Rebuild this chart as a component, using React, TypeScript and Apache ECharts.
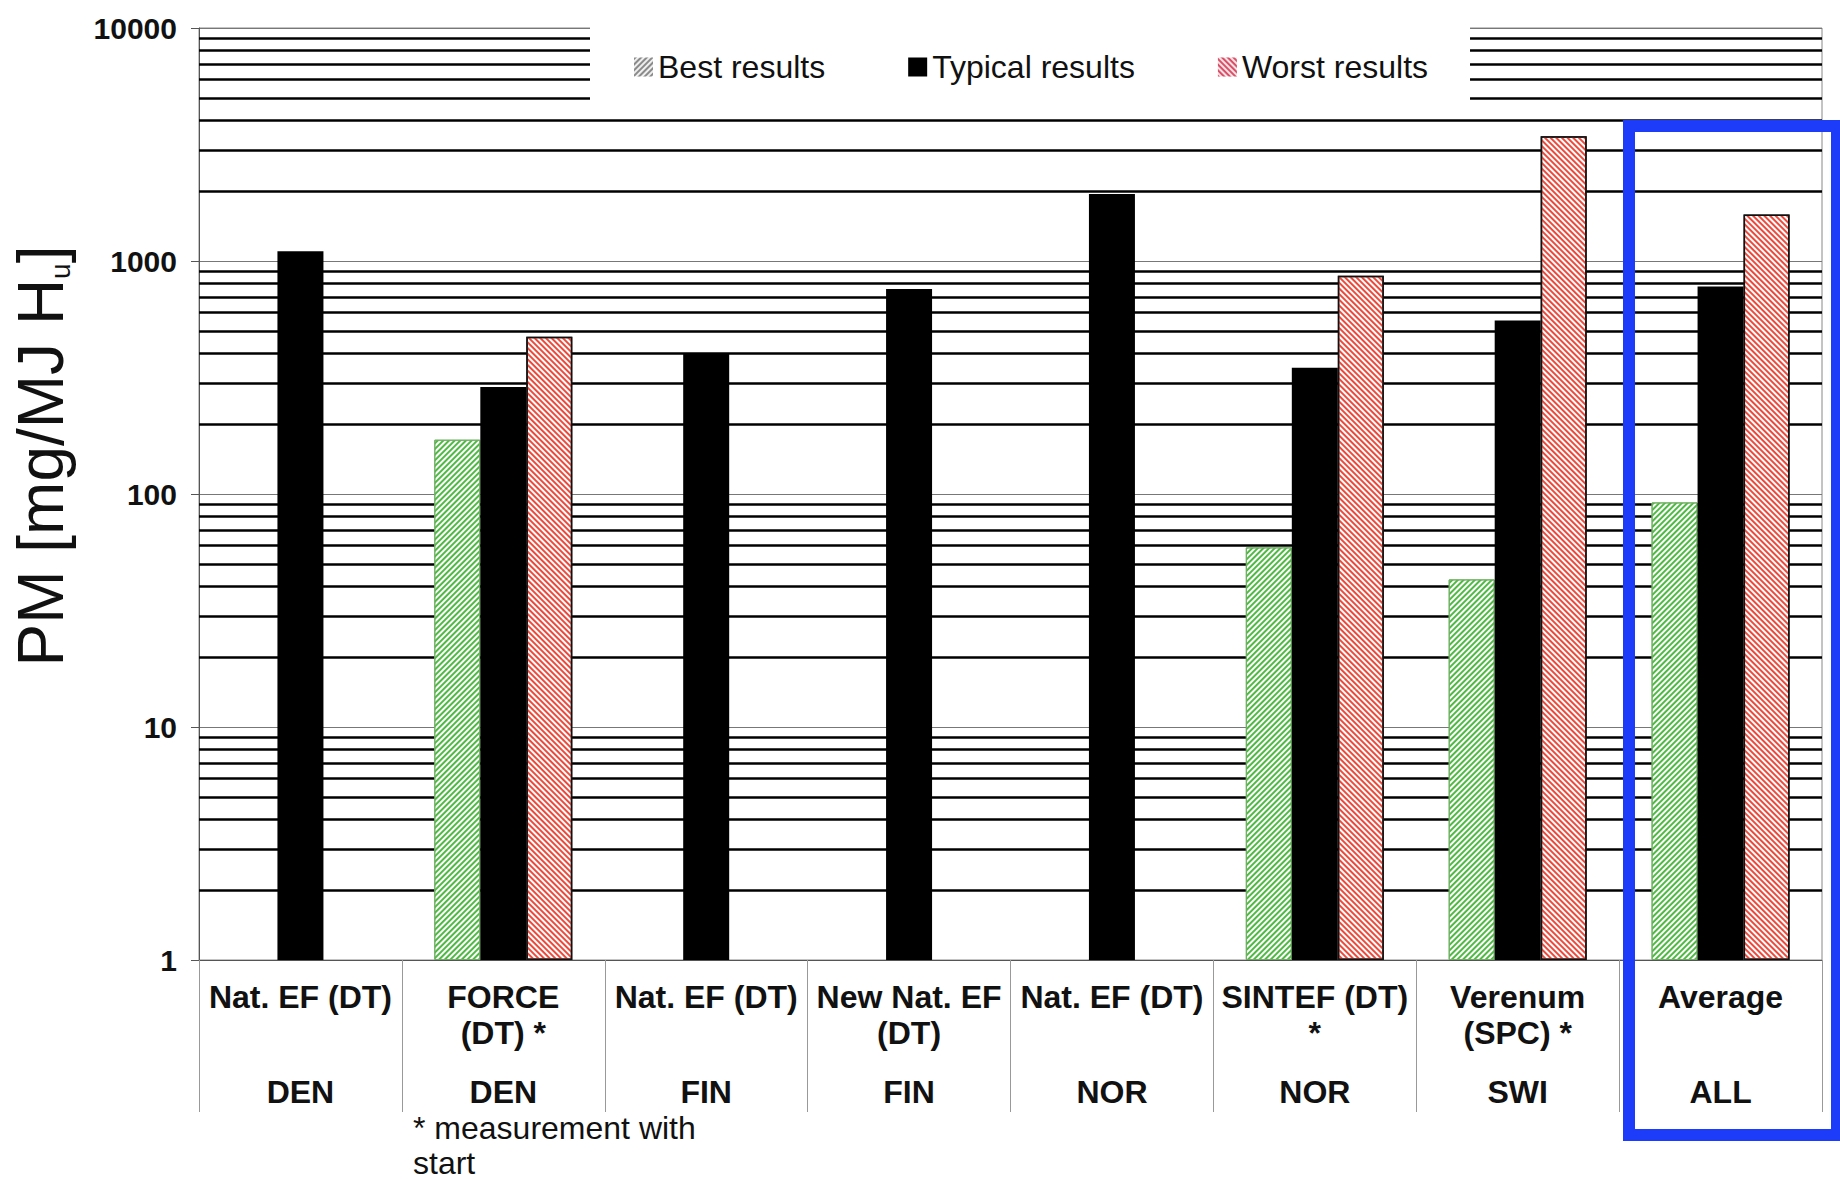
import React, { useEffect, useRef } from "react";
import * as echarts from "echarts";

// Category labels (method line(s)) and country row
const methods = [
  "Nat. EF (DT)",
  "FORCE\n(DT) *",
  "Nat. EF (DT)",
  "New Nat. EF\n(DT)",
  "Nat. EF (DT)",
  "SINTEF (DT)\n*",
  "Verenum\n(SPC) *",
  "Average",
];
const countries = ["DEN", "DEN", "FIN", "FIN", "NOR", "NOR", "SWI", "ALL"];

// PM [mg/MJ Hu]
const bestResults = [null, 171, null, null, null, 59, 43, 92];
const typicalResults = [1100, 288, 402, 759, 1940, 348, 556, 777];
const worstResults = [null, 473, null, null, null, 864, 3430, 1584];

// Y axis
const yMin = 1;
const yMax = 10000;
const minorGridValues = [
  2, 3, 4, 5, 6, 7, 8, 9,
  20, 30, 40, 50, 60, 70, 80, 90,
  200, 300, 400, 500, 600, 700, 800, 900,
  2000, 3000, 4000, 5000, 6000, 7000, 8000, 9000,
];

const legendNames = ["Best results", "Typical results", "Worst results"];
const footnote = "* measurement with\nstart";

const FONT = "'Liberation Sans', Arial, Helvetica, sans-serif";

const stripe = (color: string, rotation: number) => ({
  symbol: "rect",
  symbolSize: 1,
  color,
  dashArrayX: [1, 0],
  dashArrayY: [2, 2],
  rotation,
});

export default function App() {
  const ref = useRef<HTMLDivElement>(null);

  useEffect(() => {
    if (!ref.current) return;
    const chart = echarts.init(ref.current, undefined, { renderer: "svg" });

    const option: any = {
      animation: false,
      backgroundColor: "#ffffff",
      textStyle: { fontFamily: FONT },
      grid: {
        left: 199,
        top: 28,
        width: 1623,
        height: 932,
        show: true,
        borderColor: "#888888",
        borderWidth: 1,
        outerBoundsMode: "none",
      },
      legend: {
        left: 590,
        top: 15,
        padding: [34, 42, 25, 44],
        backgroundColor: "#ffffff",
        itemGap: 83,
        itemWidth: 19,
        itemHeight: 19,
        icon: "rect",
        selectedMode: false,
        textStyle: { fontSize: 32, color: "#111111", fontFamily: FONT, lineHeight: 36 },
        data: [
          {
            name: legendNames[0],
            itemStyle: { color: "#eeeeee", borderWidth: 0, decal: stripe("#8a8a8a", -Math.PI / 4) },
          },
          { name: legendNames[1], itemStyle: { color: "#000000", borderWidth: 0 } },
          {
            name: legendNames[2],
            itemStyle: { color: "#fbe3e3", borderWidth: 0, decal: stripe("#d8506a", Math.PI / 4) },
          },
        ],
      },
      xAxis: {
        type: "category",
        data: methods,
        axisLine: { show: true, lineStyle: { color: "#555555", width: 1 } },
        axisTick: { show: true, length: 152, lineStyle: { color: "#999999", width: 1 } },
        splitLine: { show: false },
        axisLabel: {
          interval: 0,
          margin: 19,
          fontFamily: FONT,
          formatter: (value: string, index: number) => {
            const parts = value.split("\n");
            const l1 = parts[0];
            const l2 = parts[1] || " ";
            return `{m|${l1}}\n{m|${l2}}\n{c|${countries[index]}}`;
          },
          rich: {
            m: { fontSize: 32, fontWeight: "bold", lineHeight: 36, color: "#111111", fontFamily: FONT },
            c: { fontSize: 32, fontWeight: "bold", lineHeight: 82, color: "#111111", fontFamily: FONT },
          },
        },
      },
      yAxis: {
        type: "log",
        logBase: 10,
        min: yMin,
        max: yMax,
        splitNumber: 4,
        axisLine: { show: true, lineStyle: { color: "#555555", width: 1 } },
        axisTick: { show: true, inside: false, length: 8, lineStyle: { color: "#555555" } },
        splitLine: { show: true, lineStyle: { color: "#777777", width: 1 } },
        minorTick: { show: false },
        minorSplitLine: { show: false },
        axisLabel: {
          margin: 22,
          fontSize: 30,
          fontWeight: "bold",
          color: "#111111",
          fontFamily: FONT,
          formatter: (v: number) => String(v),
        },
      },
      series: [
        {
          name: legendNames[0],
          type: "bar",
          data: bestResults,
          barWidth: 46,
          barGap: "0%",
          itemStyle: {
            color: "#ffffff",
            borderColor: "#6fae62",
            borderWidth: 1,
            decal: stripe("#4fb944", -Math.PI / 4),
          },
          emphasis: { disabled: true },
          markLine: {
            silent: true,
            z: 1,
            symbol: ["none", "none"],
            label: { show: false },
            emphasis: { disabled: true },
            lineStyle: { color: "#000000", width: 2.5, type: "solid" },
            data: minorGridValues.map((v) => ({ yAxis: v })),
          },
        },
        {
          name: legendNames[1],
          type: "bar",
          data: typicalResults,
          barWidth: 46,
          barGap: "0%",
          itemStyle: { color: "#000000" },
          emphasis: { disabled: true },
        },
        {
          name: legendNames[2],
          type: "bar",
          data: worstResults,
          barWidth: 46,
          barGap: "0%",
          itemStyle: {
            color: "#ffffff",
            borderColor: "#111111",
            borderWidth: 1.5,
            decal: stripe("#ec4a3c", Math.PI / 4),
          },
          emphasis: { disabled: true },
        },
      ],
      graphic: [
        {
          type: "text",
          x: 41,
          y: 456,
          rotation: Math.PI / 2,
          style: {
            text: "{a|PM [mg/MJ H}{s|u}{a|]}",
            align: "center",
            verticalAlign: "middle",
            fill: "#111111",
            rich: {
              a: { fontSize: 64, lineHeight: 66, fontFamily: FONT, fill: "#111111" },
              s: { fontSize: 28, lineHeight: 30, verticalAlign: "bottom", fontFamily: FONT, fill: "#111111" },
            },
          },
        },
        {
          type: "text",
          x: 413,
          y: 1110,
          style: {
            text: footnote,
            font: `32px ${FONT}`,
            lineHeight: 35,
            fill: "#111111",
            align: "left",
            verticalAlign: "top",
          },
        },
        {
          type: "rect",
          z: 100,
          shape: { x: 1629, y: 126, width: 208, height: 1009 },
          style: { fill: "none", stroke: "#1c3cfa", lineWidth: 12 },
        },
      ],
    };

    chart.setOption(option);
    return () => chart.dispose();
  }, []);

  return (
    <div
      ref={ref}
      style={{ position: "fixed", left: 0, top: 0, width: 1840, height: 1179, background: "#fff" }}
    />
  );
}
